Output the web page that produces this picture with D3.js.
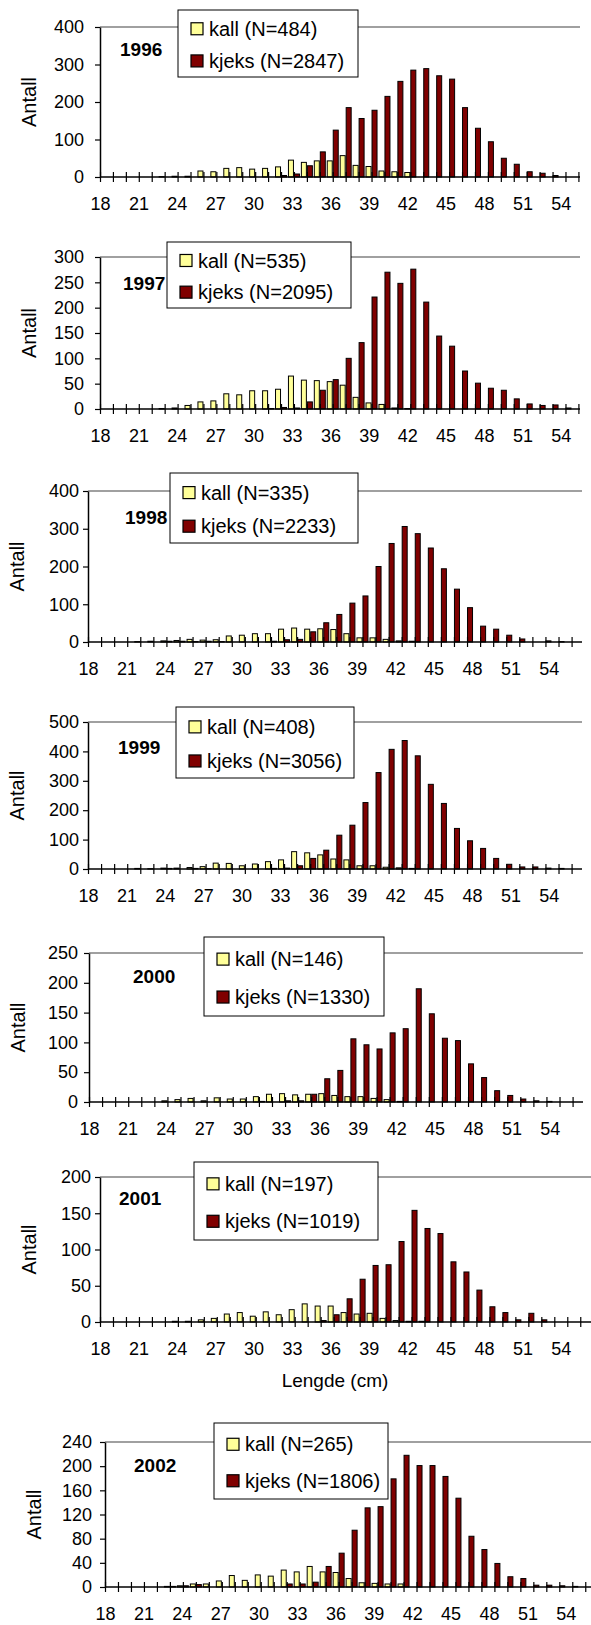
<!DOCTYPE html>
<html>
<head>
<meta charset="utf-8">
<script src="https://cdnjs.cloudflare.com/ajax/libs/d3/7.8.5/d3.min.js"></script>
<style>
  body { margin: 0; background: #fff; }
  svg { display: block; font-family: "Liberation Sans", Arial, sans-serif; }
</style>
</head>
<body>
<script>
// length classes (cm)
var lengths = [18,19,20,21,22,23,24,25,26,27,28,29,30,31,32,33,34,35,36,37,38,39,40,41,42,43,44,45,46,47,48,49,50,51,52,53,54,55];
var tickLabels = [18,21,24,27,30,33,36,39,42,45,48,51,54];

var years = ["1996","1997","1998","1999","2000","2001","2002"];
var nKall  = [484, 535, 335, 408, 146, 197, 265];
var nKjeks = [2847, 2095, 2233, 3056, 1330, 1019, 1806];

// counts per length class, 18..55
var kall1996  = [0,0,0,0,0,1,2,2,16,14,23,25,21,23,27,45,39,43,43,57,31,28,16,14,12,0,0,0,0,0,0,0,0,0,0,0,0,0];
var kjeks1996 = [0,0,0,0,0,0,0,0,0,0,0,0,0,0,4,8,30,67,125,185,156,178,215,255,285,289,270,261,185,130,94,50,34,14,10,4,0,0];
var kall1997  = [0,0,0,0,0,1,2,7,14,16,30,28,36,36,39,65,57,56,54,47,23,12,9,2,1,0,0,0,0,0,0,0,0,0,0,0,0,0];
var kjeks1997 = [0,0,0,0,0,0,0,0,0,0,0,0,0,1,3,2,14,37,58,100,131,221,270,248,276,211,144,124,75,51,41,37,20,10,7,8,2,0];
var kall1998  = [0,0,0,0,1,2,3,4,7,5,6,16,18,22,22,34,37,34,35,33,22,11,11,7,3,2,0,0,0,0,0,0,0,0,0,0,0,0];
var kjeks1998 = [0,0,0,0,0,0,2,2,1,2,1,0,0,0,2,6,7,27,51,73,103,122,200,261,306,287,249,194,140,91,42,34,18,8,0,3,1,0];
var kall1999  = [0,0,0,0,2,1,3,3,5,8,20,19,11,17,25,31,59,55,48,34,31,11,11,6,4,2,0,0,0,0,0,0,0,0,0,0,0,0];
var kjeks1999 = [0,0,0,0,0,0,2,0,2,1,0,0,0,0,2,3,11,36,64,115,149,226,328,407,437,385,288,223,138,96,70,36,16,7,7,3,2,0];
var kall2000  = [0,0,0,0,0,0,2,4,6,2,7,5,5,9,13,14,12,13,14,11,9,9,6,4,1,0,0,0,0,0,0,0,0,0,0,0,0,0];
var kjeks2000 = [0,0,0,0,0,0,0,0,0,0,0,0,0,1,0,2,2,13,39,53,106,96,89,116,123,190,148,107,103,64,41,19,11,5,2,1,0,0];
var kall2001  = [0,0,0,0,0,0,1,1,3,5,11,13,8,14,10,17,25,22,22,13,11,12,5,2,1,1,0,0,0,0,0,0,0,0,0,0,0,0];
var kjeks2001 = [0,0,0,0,0,0,0,0,0,0,0,0,0,0,0,0,0,2,10,32,59,78,79,111,154,129,122,83,69,44,21,13,3,12,3,0,0,0];
var kall2002  = [0,0,0,0,0,1,2,5,5,10,19,11,20,18,28,25,34,25,24,14,7,6,5,5,0,0,0,0,0,0,0,0,0,0,0,0,0,0];
var kjeks2002 = [0,0,0,0,0,1,2,4,0,0,0,0,0,0,5,5,8,34,56,94,131,133,179,218,201,201,183,147,84,62,39,17,14,3,3,2,1,0];

var kallByYear  = [kall1996, kall1997, kall1998, kall1999, kall2000, kall2001, kall2002];
var kjeksByYear = [kjeks1996, kjeks1997, kjeks1998, kjeks1999, kjeks2000, kjeks2001, kjeks2002];

// y-axis tick values per panel
var yTicks = [
  [0,100,200,300,400],
  [0,50,100,150,200,250,300],
  [0,100,200,300,400],
  [0,100,200,300,400,500],
  [0,50,100,150,200,250],
  [0,50,100,150,200],
  [0,40,80,120,160,200,240]
];

// panel placement (pixels)
var layout = [
  {x0:100, xEnd:580, step:12.93, top:27,   bottom:177,  gap:11, lx:178, ly:10,   lw:180, lh:67, yx:120, yy:49},
  {x0:100, xEnd:580, step:12.93, top:257,  bottom:409,  gap:11, lx:167, ly:242,  lw:184, lh:66, yx:123, yy:283},
  {x0:88,  xEnd:582, step:13.07, top:491,  bottom:642,  gap:4,  lx:170, ly:473,  lw:188, lh:70, yx:125, yy:517},
  {x0:88,  xEnd:582, step:13.07, top:722,  bottom:869,  gap:4,  lx:176, ly:707,  lw:178, lh:71, yx:118, yy:747},
  {x0:89,  xEnd:583, step:13.07, top:953,  bottom:1102, gap:6,  lx:204, ly:937,  lw:180, lh:79, yx:133, yy:976},
  {x0:100, xEnd:591, step:12.98, top:1177, bottom:1322, gap:4,  lx:194, ly:1162, lw:184, lh:78, yx:119, yy:1198},
  {x0:105, xEnd:591, step:12.98, top:1442, bottom:1587, gap:8,  lx:214, ly:1423, lw:174, lh:76, yx:134, yy:1465}
];

var KALL = "#ffff99", KJEKS = "#800000";

var svg = d3.select("body").append("svg")
    .attr("width", 591)
    .attr("height", 1625);

layout.forEach(function(p, i) {
    var maxY = yTicks[i][yTicks[i].length - 1];
    var x = d3.scalePoint()
        .domain(lengths)
        .range([p.x0, p.x0 + (lengths.length - 1) * p.step]);
    var xl = d3.scalePoint()
        .domain(tickLabels)
        .range([p.x0, p.x0 + 36 * 12.8]);
    var y = d3.scaleLinear()
        .domain([0, maxY])
        .range([p.bottom, p.top]);

    var g = svg.append("g");

    // top grid line
    g.append("line")
        .attr("x1", p.x0).attr("x2", p.xEnd)
        .attr("y1", y(maxY)).attr("y2", y(maxY))
        .attr("stroke", "#808080")
        .attr("stroke-width", 1.5);

    // bars
    var kall = lengths.map(function(l, k) { return {len: l, v: kallByYear[i][k]}; })
        .filter(function(d) { return d.v > 0; });
    var kjeks = lengths.map(function(l, k) { return {len: l, v: kjeksByYear[i][k]}; })
        .filter(function(d) { return d.v > 0; });

    g.selectAll(".kall")
        .data(kall)
        .enter().append("rect")
        .attr("class", "kall")
        .attr("x", function(d) { return x(d.len) - 5.5; })
        .attr("y", function(d) { return y(d.v); })
        .attr("width", 5)
        .attr("height", function(d) { return y(0) - y(d.v); })
        .attr("fill", KALL)
        .attr("stroke", "#000")
        .attr("stroke-width", 1);

    g.selectAll(".kjeks")
        .data(kjeks)
        .enter().append("rect")
        .attr("class", "kjeks")
        .attr("x", function(d) { return x(d.len) + 0.5; })
        .attr("y", function(d) { return y(d.v); })
        .attr("width", 5)
        .attr("height", function(d) { return y(0) - y(d.v); })
        .attr("fill", KJEKS)
        .attr("stroke", "#000")
        .attr("stroke-width", 1);

    // y axis
    var ya = g.append("g")
        .attr("transform", "translate(" + p.x0 + ",0)")
        .call(d3.axisLeft(y).tickValues(yTicks[i]).tickSizeInner(5).tickSizeOuter(0).tickPadding(p.gap));
    ya.select(".domain").attr("stroke", "#000").attr("stroke-width", 1.5);
    ya.selectAll(".tick line").attr("stroke", "#000").attr("stroke-width", 1.2);
    ya.selectAll("text").attr("font-size", 18).attr("fill", "#000");

    // x axis: crossing tick marks
    var xa = g.append("g")
        .attr("transform", "translate(0," + p.bottom + ")")
        .call(d3.axisBottom(x).tickSize(5).tickFormat(""));
    xa.select(".domain").remove();
    xa.selectAll(".tick line").attr("y1", -5).attr("stroke", "#000").attr("stroke-width", 1.2);
    g.append("line")
        .attr("x1", p.x0).attr("x2", p.xEnd)
        .attr("y1", p.bottom).attr("y2", p.bottom)
        .attr("stroke", "#000")
        .attr("stroke-width", 1.5);

    // x tick labels
    var xt = g.append("g")
        .attr("transform", "translate(0," + p.bottom + ")")
        .call(d3.axisBottom(xl).tickSize(0).tickPadding(20));
    xt.select(".domain").remove();
    xt.selectAll("text").attr("font-size", 18).attr("fill", "#000");

    // y title
    g.append("text")
        .attr("transform", "translate(" + (p.x0 - 64) + "," + ((p.top + p.bottom) / 2) + ") rotate(-90)")
        .attr("text-anchor", "middle")
        .attr("font-size", 20)
        .text("Antall");

    // year
    g.append("text")
        .attr("x", p.yx).attr("y", p.yy)
        .attr("dy", "0.36em")
        .attr("font-size", 19)
        .attr("font-weight", "bold")
        .text(years[i]);

    // legend
    var lg = g.append("g").attr("transform", "translate(" + p.lx + "," + p.ly + ")");
    lg.append("rect")
        .attr("width", p.lw).attr("height", p.lh)
        .attr("fill", "#fff").attr("stroke", "#000").attr("stroke-width", 1);
    var items = [
        {label: "kall (N=" + nKall[i] + ")", color: KALL, cy: p.lh * 0.28},
        {label: "kjeks (N=" + nKjeks[i] + ")", color: KJEKS, cy: p.lh * 0.76}
    ];
    items.forEach(function(it) {
        lg.append("rect")
            .attr("x", 13).attr("y", it.cy - 6)
            .attr("width", 12).attr("height", 12)
            .attr("fill", it.color).attr("stroke", "#000").attr("stroke-width", 1.2);
        lg.append("text")
            .attr("x", 31).attr("y", it.cy)
            .attr("dy", "0.36em")
            .attr("font-size", 20)
            .text(it.label);
    });
});

// x title under the 2001 panel
svg.append("text")
    .attr("x", 335).attr("y", 1387)
    .attr("text-anchor", "middle")
    .attr("font-size", 19)
    .text("Lengde (cm)");
</script>
</body>
</html>
